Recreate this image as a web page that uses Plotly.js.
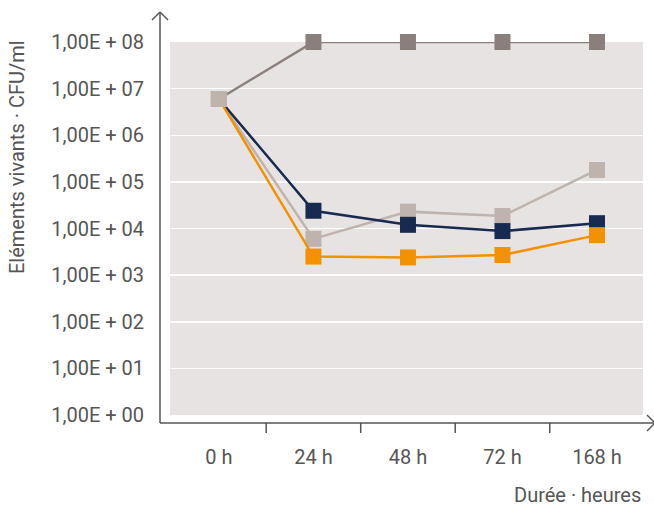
<!DOCTYPE html>
<html><head><meta charset="utf-8">
<script src="https://cdn.plot.ly/plotly-3.0.1.min.js"></script>
<style>body{margin:0;background:#fff}#c{width:654px;height:508px}</style>
</head><body><div id="c"></div>
<script>
const categories = ["0 h", "24 h", "48 h", "72 h", "168 h"];
const seriesBrown = [6e6, 1e8, 1e8, 1e8, 1e8];
const seriesLight = [6e6, 6e3, 2.3e4, 1.85e4, 1.8e5];
const seriesNavy = [6e6, 2.4e4, 1.2e4, 8.8e3, 1.3e4];
const seriesOrange = [6e6, 2.5e3, 2.4e3, 2.7e3, 7.2e3];
const yTickVals = [1, 10, 100, 1e3, 1e4, 1e5, 1e6, 1e7, 1e8];
const yTickText = ["1,00E + 00","1,00E + 01","1,00E + 02","1,00E + 03","1,00E + 04","1,00E + 05","1,00E + 06","1,00E + 07","1,00E + 08"];
const tickBoundaries = [0.5, 1.5, 2.5, 3.5];

const colors = {brown:"#8b7f7b", light:"#bfb3ae", navy:"#172a4f", orange:"#f39200"};
function tr(y, c){
  return {x: categories, y: y, type: "scatter", mode: "lines+markers",
    line: {color: c, width: 2.5}, marker: {symbol: "square", size: 16, color: c},
    hoverinfo: "none", cliponaxis: false};
}
const traces = [tr(seriesBrown, colors.brown), tr(seriesLight, colors.light), tr(seriesNavy, colors.navy), tr(seriesOrange, colors.orange),
  {x: [categories[0]], y: [seriesLight[0]], type: "scatter", mode: "markers",
   marker: {symbol: "square", size: 16, color: colors.light}, hoverinfo: "none", cliponaxis: false}];

const L = 170, R = 643, T = 42, B = 415, W = 654, H = 508;
const px = v => (v - L) / (R - L);
const py = v => (B - v) / (B - T);
const axCol = "#555555";
const shapes = [
  {type:"line", xref:"paper", yref:"paper", x0:px(160), x1:px(160), y0:py(423), y1:py(12), line:{color:axCol, width:1.5}},
  {type:"line", xref:"paper", yref:"paper", x0:px(152), x1:px(160), y0:py(20), y1:py(12), line:{color:axCol, width:1.5}},
  {type:"line", xref:"paper", yref:"paper", x0:px(168), x1:px(160), y0:py(20), y1:py(12), line:{color:axCol, width:1.5}},
  {type:"line", xref:"paper", yref:"paper", x0:px(160), x1:px(655), y0:py(423), y1:py(423), line:{color:axCol, width:1.5}},
  {type:"line", xref:"paper", yref:"paper", x0:px(647), x1:px(655), y0:py(415), y1:py(423), line:{color:axCol, width:1.5}},
  {type:"line", xref:"paper", yref:"paper", x0:px(647), x1:px(655), y0:py(431), y1:py(423), line:{color:axCol, width:1.5}}
];
tickBoundaries.forEach(b => shapes.push({type:"line", xref:"x", yref:"paper", x0:b, x1:b, y0:py(423), y1:py(433), line:{color:axCol, width:1.5}}));

const font = {family: "Roboto, sans-serif", size: 20, color: "#555555"};
const layout = {
  width: W, height: H,
  margin: {l: L, r: W - R, t: T, b: H - B, pad: 0},
  paper_bgcolor: "#ffffff", plot_bgcolor: "#e8e3e3",
  showlegend: false, font: font,
  xaxis: {type: "category", range: [-0.518, 4.487], showgrid: false, zeroline: false, showline: false,
    ticks: "outside", ticklen: 24, tickcolor: "rgba(0,0,0,0)", tickfont: font, fixedrange: true},
  yaxis: {type: "log", range: [0, 8], tickvals: yTickVals, ticktext: yTickText, showgrid: true,
    gridcolor: "#ffffff", gridwidth: 1.5, zeroline: false, showline: false,
    ticks: "outside", ticklen: 21, tickcolor: "rgba(0,0,0,0)", tickfont: font, fixedrange: true},
  shapes: shapes,
  annotations: [
    {text: "Eléments vivants · CFU/ml", xref: "paper", yref: "paper", x: px(17), y: py(157),
     xanchor: "center", yanchor: "middle", textangle: -90, showarrow: false, font: font},
    {text: "Durée · heures", xref: "paper", yref: "paper", x: px(643), y: py(495),
     xanchor: "right", yanchor: "middle", showarrow: false, font: font}
  ]
};
Plotly.newPlot("c", traces, layout, {displayModeBar: false, staticPlot: true});
</script></body></html>
